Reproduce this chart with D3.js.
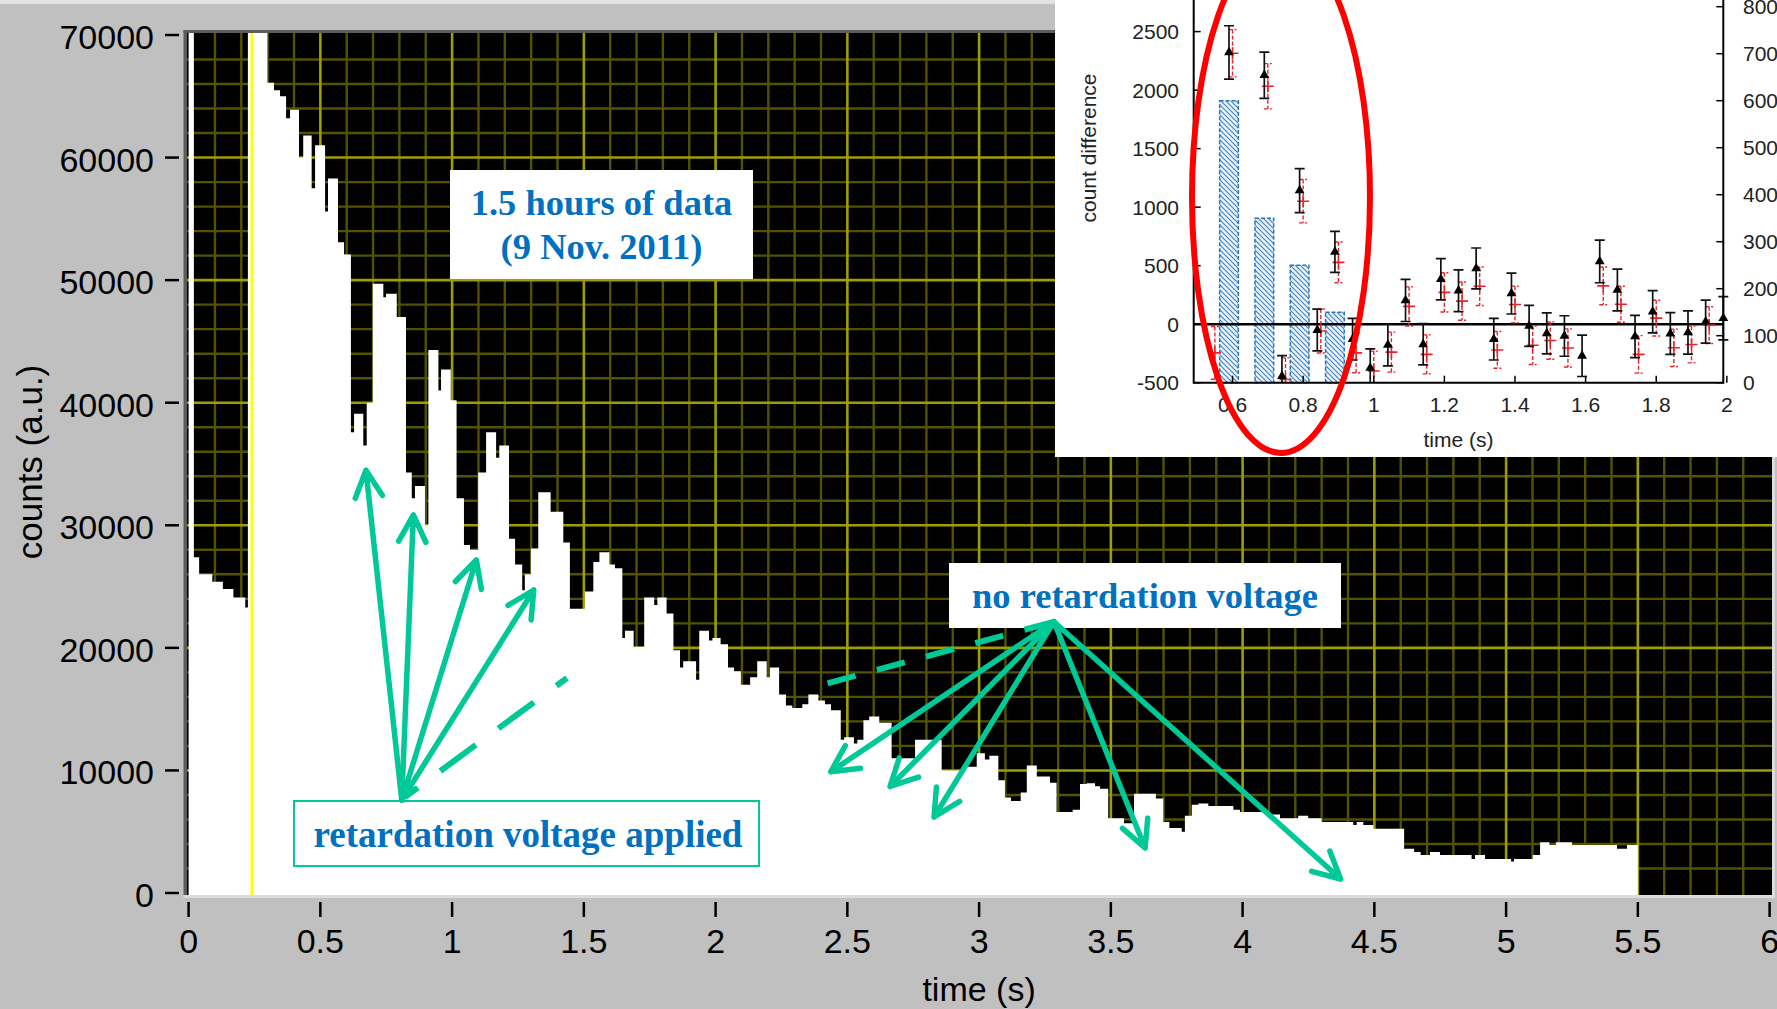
<!DOCTYPE html>
<html><head><meta charset="utf-8">
<script src="https://cdn.jsdelivr.net/npm/d3@7"></script>
<style>html,body{margin:0;padding:0;background:#c0c0c0;overflow:hidden}</style>
</head><body>
<svg id="c" width="1777" height="1009"></svg>
<script>
// ---------------- main histogram data (time in s, counts) ----------------
const histT = [0, 0.02, 0.04, 0.09, 0.13, 0.17, 0.215, 0.225, 0.299, 0.324, 0.347, 0.370, 0.385, 0.419, 0.435, 0.467, 0.480, 0.518, 0.529, 0.567, 0.590, 0.616, 0.628, 0.663, 0.676, 0.699, 0.739, 0.749, 0.790, 0.825, 0.847, 0.859, 0.897, 0.910, 0.948, 0.958, 0.995, 1.017, 1.045, 1.068, 1.099, 1.129, 1.167, 1.179, 1.216, 1.239, 1.266, 1.276, 1.299, 1.327, 1.374, 1.422, 1.447, 1.504, 1.536, 1.559, 1.597, 1.618, 1.646, 1.656, 1.689, 1.729, 1.767, 1.779, 1.814, 1.840, 1.865, 1.877, 1.926, 1.938, 1.975, 1.988, 2.019, 2.047, 2.070, 2.096, 2.131, 2.158, 2.194, 2.206, 2.241, 2.267, 2.291, 2.329, 2.352, 2.390, 2.415, 2.438, 2.475, 2.488, 2.525, 2.538, 2.561, 2.583, 2.621, 2.668, 2.757, 2.858, 2.940, 2.991, 3.022, 3.039, 3.073, 3.098, 3.121, 3.158, 3.181, 3.219, 3.269, 3.294, 3.355, 3.383, 3.408, 3.440, 3.459, 3.490, 3.550, 3.588, 3.671, 3.699, 3.722, 3.769, 3.781, 3.807, 3.832, 3.870, 3.965, 3.990, 4.104, 4.142, 4.211, 4.249, 4.300, 4.420, 4.433, 4.458, 4.496, 4.613, 4.651, 4.676, 4.711, 4.749, 4.869, 4.882, 4.920, 5.019, 5.030, 5.101, 5.129, 5.164, 5.189, 5.250, 5.421, 5.459];
const histCounts = [80000, 27400, 26000, 25400, 24800, 24100, 23300, 80000, 66100, 65500, 65000, 63200, 63900, 60000, 61800, 57500, 61000, 55600, 58300, 53100, 52100, 37600, 39100, 36500, 40000, 49700, 48600, 48900, 47000, 34300, 32200, 33200, 30000, 44300, 41000, 42700, 40200, 32200, 28400, 28000, 34300, 37600, 35500, 36500, 28900, 26800, 24700, 26000, 28100, 32700, 31100, 28600, 23200, 24600, 27000, 27800, 26800, 26500, 20800, 21400, 20100, 24100, 23500, 24100, 22800, 19800, 18400, 18900, 17400, 21400, 20600, 20800, 20300, 18400, 18100, 17000, 17600, 18900, 17600, 18400, 16200, 15300, 15100, 15400, 16200, 15700, 15400, 14900, 12500, 12700, 12200, 12500, 14100, 14400, 13900, 11000, 12500, 10000, 10300, 11400, 10900, 11200, 9200, 7800, 7500, 8200, 10400, 9500, 9000, 6600, 6800, 8900, 8950, 8700, 8500, 6100, 5700, 8100, 7700, 5800, 5300, 5000, 6300, 7200, 7300, 7100, 6800, 6600, 6400, 6100, 6300, 6100, 5800, 5550, 5800, 5550, 5250, 3600, 3350, 3100, 3350, 3100, 2770, 3100, 2770, 2560, 2770, 3100, 4140, 3920, 4140, 3920, 3600, 3920];
const histEnd = 5.5;
const cursorT = 0.24;
const xTicks = [0, 0.5, 1, 1.5, 2, 2.5, 3, 3.5, 4, 4.5, 5, 5.5, 6];
const yTicks = [0, 10000, 20000, 30000, 40000, 50000, 60000, 70000];

// annotation arrows (data coordinates: time, counts)
const apexA = [0.809, 7590];
const tipsA = [[0.673, 34490], [0.853, 30840], [1.092, 27170], [1.310, 24720]];
const dashA = [[0.821, 7830], [1.436, 17540]];
const apexB = [3.284, 22130];
const tipsB = [[2.437, 9890], [2.662, 8690], [2.829, 6200], [3.630, 3670], [4.372, 1140]];
const dashB = [[2.425, 17110], [3.284, 22130]];

// ---------------- inset data ----------------
const insetXTicks = [0.6, 0.8, 1, 1.2, 1.4, 1.6, 1.8, 2];
const insetLeftTicks = [-500, 0, 500, 1000, 1500, 2000, 2500];
const insetRightTicks = [0, 100, 200, 300, 400, 500, 600, 700, 800];
const barT = [0.59, 0.69, 0.79, 0.89];
const barV = [600, 350, 250, 150];           // right axis
const blackT = [0.59, 0.69, 0.74, 0.79, 0.84, 0.89, 0.94, 0.99, 1.04, 1.09, 1.14, 1.19, 1.24, 1.29, 1.34, 1.39, 1.44, 1.49, 1.54, 1.59, 1.64, 1.69, 1.74, 1.79, 1.84, 1.89, 1.94, 1.99];
const blackV = [2322, 2127, -444, 1142, -50, 618, -128, -373, -178, 203, -172, 384, 286, 476, -128, 262, -15, -79, -101, -270, 536, 292, -105, 106, -80, -71, 22, 51];
const blackE = [228, 198, 176, 188, 178, 175, 178, 162, 178, 180, 176, 176, 178, 175, 178, 175, 175, 175, 173, 177, 182, 178, 181, 181, 178, 185, 184, 185];
const redT = [0.55, 0.60, 0.70, 0.75, 0.80, 0.85, 0.90, 0.95, 1.00, 1.05, 1.10, 1.15, 1.20, 1.25, 1.30, 1.35, 1.40, 1.45, 1.50, 1.55, 1.65, 1.70, 1.75, 1.80, 1.85, 1.90, 1.95];
const redV = [-245, 2315, 2033, -473, 1051, -58, 528, -245, -400, -239, 152, -258, 272, 197, 324, -220, 168, -180, -140, -203, 327, 170, -258, 52, -202, -174, -8];
const redE = [225, 202, 193, 185, 185, 188, 174, 170, 170, 171, 167, 167, 168, 163, 164, 157, 157, 165, 160, 163, 161, 154, 160, 153, 160, 157, 157];

// ---------------- drawing ----------------
const W = 1777, H = 1009;
const svg = d3.select('#c');
const teal = '#00c896', blue = '#0070c0';
svg.append('rect').attr('width', W).attr('height', H).attr('fill', '#c0c0c0');
svg.append('rect').attr('x', 0).attr('y', 0).attr('width', 1056).attr('height', 4).attr('fill', '#e2e2e2');

const P = {left: 187, right: 1772, top: 33, bottom: 895};
const x = d3.scaleLinear().domain([0, 6]).range([188.6, 1769.6]);
const y = d3.scaleLinear().domain([0, 70000]).range([893, 35]);

// frame
svg.append('rect').attr('x', 183.5).attr('y', 30).attr('width', P.right - 183.5).attr('height', 3).attr('fill', '#5c5c5c');
svg.append('rect').attr('x', 183.5).attr('y', 30).attr('width', 3.5).attr('height', P.bottom - 30).attr('fill', '#5c5c5c');
svg.append('rect').attr('x', 183.5).attr('y', P.bottom).attr('width', P.right - 183.5 + 3).attr('height', 3).attr('fill', '#dcdcdc');
svg.append('rect').attr('x', P.right).attr('y', 30).attr('width', 3).attr('height', P.bottom - 30 + 3).attr('fill', '#dcdcdc');
svg.append('rect').attr('x', P.left).attr('y', P.top).attr('width', P.right - P.left).attr('height', P.bottom - P.top).attr('fill', '#000');

svg.append('defs').append('clipPath').attr('id', 'pc').append('rect')
  .attr('x', P.left).attr('y', P.top).attr('width', P.right - P.left).attr('height', P.bottom - P.top);

const grid = svg.append('g').attr('clip-path', 'url(#pc)');
const near = (a, b) => Math.abs(a - b) < 1e-6;
const tMinor = d3.range(1, 60).map(i => i / 10).filter(t => !near(t * 2, Math.round(t * 2)));
const tMajor = d3.range(1, 12).map(i => i / 2);
const vMinor = d3.range(1, 35).map(i => i * 2000).filter(v => v % 10000 !== 0);
const vMajor = d3.range(1, 7).map(i => i * 10000);
grid.selectAll('.vmin').data(tMinor).join('line').attr('x1', d => x(d)).attr('x2', d => x(d))
  .attr('y1', P.top).attr('y2', P.bottom).attr('stroke', '#525200').attr('stroke-width', 2.4);
grid.selectAll('.hmin').data(vMinor).join('line').attr('y1', d => y(d)).attr('y2', d => y(d))
  .attr('x1', P.left).attr('x2', P.right).attr('stroke', '#525200').attr('stroke-width', 2.4);
grid.selectAll('.vmaj').data(tMajor).join('line').attr('x1', d => x(d)).attr('x2', d => x(d))
  .attr('y1', P.top).attr('y2', P.bottom).attr('stroke', '#9e9e00').attr('stroke-width', 2.6);
grid.selectAll('.hmaj').data(vMajor).join('line').attr('y1', d => y(d)).attr('y2', d => y(d))
  .attr('x1', P.left).attr('x2', P.right).attr('stroke', '#9e9e00').attr('stroke-width', 2.6);

// histogram
const histData = histT.map((t, i) => ({t, v: histCounts[i]}));
histData.push({t: histEnd, v: histCounts[histCounts.length - 1]});
const area = d3.area().curve(d3.curveStepAfter)
  .x(d => x(d.t)).y0(P.bottom).y1(d => y(d.v));
svg.append('path').attr('clip-path', 'url(#pc)').datum(histData).attr('d', area).attr('fill', '#fff');

// cursor
svg.append('line').attr('x1', x(cursorT)).attr('x2', x(cursorT)).attr('y1', P.top).attr('y2', P.bottom)
  .attr('stroke', '#ffff00').attr('stroke-width', 2.6);

// axes
const axisFont = "'Liberation Sans', Arial, sans-serif";
const yt = svg.append('g');
yt.selectAll('line').data(yTicks).join('line').attr('x1', 165).attr('x2', 179)
  .attr('y1', d => y(d)).attr('y2', d => y(d)).attr('stroke', '#000').attr('stroke-width', 2.5);
yt.selectAll('text').data(yTicks).join('text').attr('x', 154).attr('y', d => y(d) + 14)
  .attr('text-anchor', 'end').attr('font-family', axisFont).attr('font-size', 34).attr('fill', '#000').text(d => d);
const xt = svg.append('g');
xt.selectAll('line').data(xTicks).join('line').attr('x1', d => x(d)).attr('x2', d => x(d))
  .attr('y1', 902).attr('y2', 917).attr('stroke', '#000').attr('stroke-width', 2.5);
xt.selectAll('text').data(xTicks).join('text').attr('x', d => x(d)).attr('y', 953)
  .attr('text-anchor', 'middle').attr('font-family', axisFont).attr('font-size', 34).attr('fill', '#000').text(d => String(d));
svg.append('text').attr('x', x(3)).attr('y', 1001).attr('text-anchor', 'middle')
  .attr('font-family', axisFont).attr('font-size', 34).attr('fill', '#000').text('time (s)');
svg.append('text').attr('transform', 'translate(42,462) rotate(-90)').attr('text-anchor', 'middle')
  .attr('font-family', axisFont).attr('font-size', 35).attr('fill', '#000').text('counts (a.u.)');

// annotation boxes
const serif = "'Liberation Serif', 'Times New Roman', serif";
function box(x0, y0, x1, y1, stroke) {
  svg.append('rect').attr('x', x0).attr('y', y0).attr('width', x1 - x0).attr('height', y1 - y0)
    .attr('fill', '#fff').attr('stroke', stroke || 'none').attr('stroke-width', 2);
}
function label(cx, by, txt, size) {
  svg.append('text').attr('x', cx).attr('y', by).attr('text-anchor', 'middle')
    .attr('font-family', serif).attr('font-weight', 'bold').attr('font-size', size).attr('fill', blue).text(txt);
}
box(450, 170, 753, 279);
label(601.5, 215, '1.5 hours of data', 36.5);
label(601.5, 259, '(9 Nov. 2011)', 36.5);
box(294, 801, 759, 866, teal);
label(528, 847, 'retardation voltage applied', 37);
box(949, 563, 1341, 628);
label(1145, 608, 'no retardation voltage', 36.5);

// arrows
const P2 = d => [x(d[0]), y(d[1])];
function arrow(a, b) {
  const p0 = P2(a), p1 = P2(b);
  const dx = p1[0] - p0[0], dy = p1[1] - p0[1], L = Math.hypot(dx, dy);
  const bx = -dx / L, by = -dy / L, hl = 30, an = 27 * Math.PI / 180, c = Math.cos(an), s = Math.sin(an);
  const h1 = [p1[0] + hl * (bx * c - by * s), p1[1] + hl * (bx * s + by * c)];
  const h2 = [p1[0] + hl * (bx * c + by * s), p1[1] + hl * (-bx * s + by * c)];
  svg.append('path').attr('d', `M${p0}L${p1}M${h1}L${p1}L${h2}`)
    .attr('fill', 'none').attr('stroke', teal).attr('stroke-width', 5.5)
    .attr('stroke-linecap', 'round').attr('stroke-linejoin', 'round');
}
function dashed(a, b, dash, off) {
  svg.append('path').attr('d', d3.line()(([a, b]).map(P2)))
    .attr('fill', 'none').attr('stroke', teal).attr('stroke-width', 6)
    .attr('stroke-dasharray', dash).attr('stroke-dashoffset', off);
}
dashed(dashA[0], dashA[1], '44 28', 28);
dashed(dashB[0], dashB[1], '29 22', 0);
tipsA.forEach(t => arrow(apexA, t));
tipsB.forEach(t => arrow(apexB, t));

// ---------------- inset ----------------
const ig = svg.append('g');
ig.append('rect').attr('x', 1055).attr('y', 0).attr('width', W - 1055).attr('height', 457).attr('fill', '#fff');
const IL = 1193.7, IR = 1723.3, IB = 382.7;
const xi = d3.scaleLinear().domain([0.49, 1.99]).range([IL, IR]);
const yL = d3.scaleLinear().domain([-500, 2770]).range([IB, 0]);
const yR = d3.scaleLinear().domain([0, 800]).range([IB, 6.7]);
const defs = svg.select('defs');
const pat = defs.append('pattern').attr('id', 'hatch').attr('patternUnits', 'userSpaceOnUse')
  .attr('width', 5).attr('height', 5);
pat.append('rect').attr('width', 5).attr('height', 5).attr('fill', '#eef4fb');
pat.append('path').attr('d', 'M-1,-1L6,6M-1,4L1,6M4,-1L6,1').attr('stroke', '#3f86c8').attr('stroke-width', 1.2);
defs.append('clipPath').attr('id', 'ic').append('rect').attr('x', IL - 6).attr('y', 0).attr('width', IR - IL + 20).attr('height', IB);

const sans = "'Liberation Sans', Arial, sans-serif";
// bars
const bw = xi(0.543) - xi(0.49);
ig.selectAll('.bar').data(barT).join('rect')
  .attr('x', d => xi(d) - bw / 2).attr('width', bw)
  .attr('y', (d, i) => yR(barV[i])).attr('height', (d, i) => IB - yR(barV[i]))
  .attr('fill', 'url(#hatch)').attr('stroke', '#2f75b5').attr('stroke-width', 1.5).attr('stroke-dasharray', '4 2');
// zero line
ig.append('line').attr('x1', IL).attr('x2', IR).attr('y1', yL(0)).attr('y2', yL(0)).attr('stroke', '#000').attr('stroke-width', 2.6);

// red series
const rg = ig.append('g').attr('clip-path', 'url(#ic)');
redT.forEach((t, i) => {
  const cx = xi(t), cy = yL(redV[i]), t0 = yL(redV[i] + redE[i]), b0 = yL(redV[i] - redE[i]);
  rg.append('path').attr('d', `M${cx},${t0}V${b0}M${cx - 4},${t0}H${cx + 4}M${cx - 4},${b0}H${cx + 4}`)
    .attr('stroke', '#e8242b').attr('stroke-width', 1.4).attr('fill', 'none').attr('stroke-dasharray', '4 2');
  rg.append('path').attr('d', `M${cx - 6},${cy}H${cx + 6}M${cx},${cy - 6}V${cy + 6}`)
    .attr('stroke', '#e8242b').attr('stroke-width', 1.6).attr('fill', 'none');
});
// black series
const bg = ig.append('g').attr('clip-path', 'url(#ic)');
const tri = d3.symbol().type(d3.symbolTriangle).size(42);
blackT.forEach((t, i) => {
  const cx = xi(t), cy = yL(blackV[i]), t0 = yL(blackV[i] + blackE[i]), b0 = yL(blackV[i] - blackE[i]);
  bg.append('path').attr('d', `M${cx},${t0}V${b0}M${cx - 5},${t0}H${cx + 5}M${cx - 5},${b0}H${cx + 5}`)
    .attr('stroke', '#111').attr('stroke-width', 1.7).attr('fill', 'none');
  bg.append('path').attr('d', tri()).attr('transform', `translate(${cx},${cy})`).attr('fill', '#000');
});

// inset axes
ig.append('path').attr('d', `M${IL},0V${IB}H${IR}V0`).attr('fill', 'none').attr('stroke', '#000').attr('stroke-width', 2);
ig.selectAll('.lt').data(insetLeftTicks).join('line').attr('x1', IL).attr('x2', IL + 7)
  .attr('y1', d => yL(d)).attr('y2', d => yL(d)).attr('stroke', '#000').attr('stroke-width', 1.5);
ig.selectAll('.ll').data(insetLeftTicks).join('text').attr('x', 1179).attr('y', d => yL(d) + 7.5)
  .attr('text-anchor', 'end').attr('font-family', sans).attr('font-size', 21).attr('fill', '#222').text(d => d);
ig.selectAll('.rt').data(insetRightTicks).join('line').attr('x1', IR - 7).attr('x2', IR)
  .attr('y1', d => yR(d)).attr('y2', d => yR(d)).attr('stroke', '#000').attr('stroke-width', 1.5);
ig.selectAll('.rl').data(insetRightTicks).join('text').attr('x', 1743).attr('y', d => yR(d) + 7.5)
  .attr('font-family', sans).attr('font-size', 21).attr('fill', '#222').text(d => d);
ig.selectAll('.bt').data(insetXTicks).join('line').attr('x1', d => xi(d)).attr('x2', d => xi(d))
  .attr('y1', IB - 7).attr('y2', IB).attr('stroke', '#000').attr('stroke-width', 1.5);
ig.selectAll('.bl').data(insetXTicks).join('text').attr('x', d => xi(d)).attr('y', 412)
  .attr('text-anchor', 'middle').attr('font-family', sans).attr('font-size', 21).attr('fill', '#222').text(d => String(d));
ig.append('text').attr('x', (IL + IR) / 2).attr('y', 447).attr('text-anchor', 'middle')
  .attr('font-family', sans).attr('font-size', 21).attr('fill', '#222').text('time (s)');
ig.append('text').attr('transform', 'translate(1096,148) rotate(-90)').attr('text-anchor', 'middle')
  .attr('font-family', sans).attr('font-size', 21).attr('fill', '#222').text('count difference');

// red oval
ig.append('ellipse').attr('cx', 1281).attr('cy', 197).attr('rx', 89).attr('ry', 256)
  .attr('fill', 'none').attr('stroke', '#ff0000').attr('stroke-width', 6);
</script>
</body></html>
